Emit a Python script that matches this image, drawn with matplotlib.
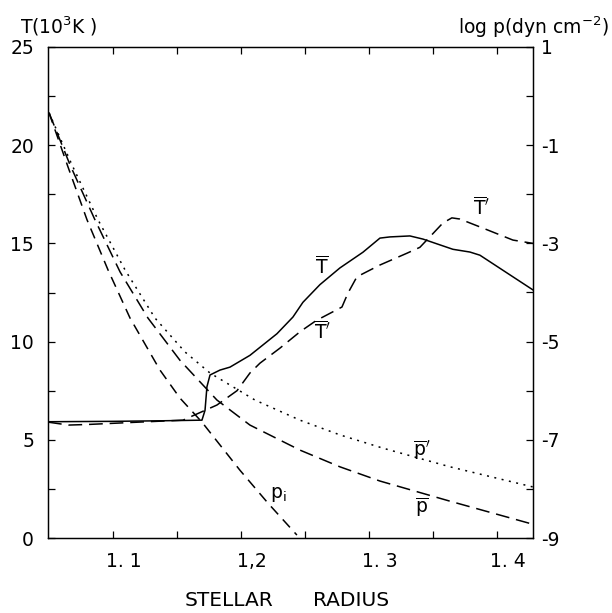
import matplotlib
matplotlib.use("Agg")
import matplotlib.pyplot as plt
import matplotlib.transforms as mtransforms

# stellar radius / temperature (10^3 K)
x_tbar = [1.049, 1.10, 1.14, 1.1693, 1.1717, 1.1732, 1.1756, 1.1834, 1.1912, 1.2068,
          1.2279, 1.2404, 1.2482, 1.2615, 1.2771, 1.2951, 1.3084, 1.3162, 1.3318,
          1.342, 1.3654, 1.3787, 1.3865, 1.4076, 1.428]
t_bar = [5.92, 5.94, 5.97, 6.0, 6.5, 7.7, 8.3, 8.55, 8.7, 9.3,
         10.4, 11.25, 12.0, 12.9, 13.75, 14.55, 15.27, 15.33, 15.38,
         15.22, 14.7, 14.56, 14.4, 13.5, 12.63]

x_tprime = [1.049, 1.065, 1.08, 1.12, 1.1545, 1.181, 1.1967, 1.2068, 1.2146, 1.2303,
            1.2459, 1.2592, 1.2638, 1.2787, 1.2834, 1.2904, 1.3084, 1.3295, 1.3396,
            1.3498, 1.3576, 1.3646, 1.3709, 1.3865, 1.4123, 1.428]
t_prime = [5.9, 5.75, 5.78, 5.9, 6.0, 6.77, 7.5, 8.4, 8.9, 9.67,
           10.5, 11.1, 11.25, 11.76, 12.47, 13.3, 13.9, 14.5, 14.8,
           15.5, 16.04, 16.3, 16.24, 15.84, 15.17, 15.0]

# log p (dyn cm^-2)
x_pi = [1.0498, 1.0646, 1.0795, 1.0959, 1.1131, 1.1365, 1.1521, 1.1693, 1.199, 1.2209, 1.2435]
logp_pi = [-0.34, -1.44, -2.52, -3.54, -4.52, -5.58, -6.15, -6.64, -7.62, -8.29, -8.94]

x_pbar = [1.0498, 1.0662, 1.0857, 1.1053, 1.1271, 1.1521, 1.181, 1.2068, 1.2459,
          1.2771, 1.3084, 1.3631, 1.4279]
logp_pbar = [-0.34, -1.40, -2.52, -3.58, -4.52, -5.38, -6.19, -6.70, -7.21,
             -7.55, -7.84, -8.25, -8.72]

x_pprime = [1.0498, 1.0677, 1.0881, 1.1092, 1.1326, 1.156, 1.1756, 1.2107, 1.2459,
            1.2771, 1.3107, 1.3631, 1.4279]
logp_pprime = [-0.34, -1.40, -2.52, -3.54, -4.52, -5.21, -5.64, -6.19, -6.60,
               -6.90, -7.17, -7.55, -7.96]

xtick_pos = [1.1, 1.2, 1.3, 1.4]
xtick_lab = ["1. 1", "1,2", "1. 3", "1. 4"]
ytick_left = [0, 5, 10, 15, 20, 25]
ytick_right = [-9, -7, -5, -3, -1, 1]

plt.rcParams['font.family'] = ['DejaVu Sans']
fs = 13.5

fig = plt.figure(figsize=(6.12, 6.13), dpi=100)
ax = fig.add_axes([48 / 612, 75 / 613, 485 / 612, 491 / 613])
ax2 = ax.twinx()

ax.set_xlim(1.049, 1.428)
ax.set_ylim(0, 25)
ax2.set_ylim(-9, 1)

lw = 1.1
ax.plot(x_tbar, t_bar, color='black', lw=lw)
ax.plot(x_tprime, t_prime, color='black', lw=lw, dashes=(9, 4.5))
ax2.plot(x_pi, logp_pi, color='black', lw=lw, dashes=(7, 4.5))
ax2.plot(x_pbar, logp_pbar, color='black', lw=lw, dashes=(9, 4.5))
ax2.plot(x_pprime, logp_pprime, color='black', lw=lw, dashes=(1.3, 3.6))

# curve labels
ax.text(1.263, 13.8, r"$\overline{\mathrm{T}}$", fontsize=fs, ha='center', va='center')
ax.text(1.2638, 10.5, r"$\overline{\mathrm{T}}'$", fontsize=fs, ha='center', va='center')
ax.text(1.388, 16.8, r"$\overline{\mathrm{T}}'$", fontsize=fs, ha='center', va='center')
ax.text(1.341, 4.48, r"$\overline{\mathrm{p}}'$", fontsize=fs, ha='center', va='center')
ax.text(1.341, 1.58, r"$\overline{\mathrm{p}}$", fontsize=fs, ha='center', va='center')
ax.text(1.2287, 2.19, r"$\mathrm{p_i}$", fontsize=fs, ha='center', va='center')

# ticks
ax.set_xticks(xtick_pos)
ax.set_xticklabels(xtick_lab, fontsize=fs)
ax.set_xticks([1.15, 1.25, 1.35], minor=True)
ax.set_yticks(ytick_left)
ax.set_yticklabels([str(v) for v in ytick_left], fontsize=fs)
ax.set_yticks([2.5, 7.5, 12.5, 17.5, 22.5], minor=True)
ax2.set_yticks(ytick_right)
ax2.set_yticklabels([str(v) for v in ytick_right], fontsize=fs)
ax2.set_yticks([-8, -6, -4, -2, 0], minor=True)

ax.tick_params(axis='x', which='both', direction='in', top=True, length=5, width=0.9, pad=10)
ax.tick_params(axis='y', which='both', direction='in', right=False, length=5, width=0.9, pad=10)
ax2.tick_params(axis='y', which='both', direction='in', length=5, width=0.9, pad=6)

offset = mtransforms.ScaledTranslation(0.11, 0, fig.dpi_scale_trans)
for lbl in ax.get_xticklabels():
    lbl.set_transform(lbl.get_transform() + offset)

for a in (ax, ax2):
    for sp in a.spines.values():
        sp.set_linewidth(0.9)

fig.text(20 / 612, 1 - 34 / 613, r"T(10$^3$K )", fontsize=fs, ha='left', va='baseline')
fig.text(609 / 612, 1 - 34 / 613, r"log p(dyn cm$^{-2}$)", fontsize=fs, ha='right', va='baseline')
fig.text(229 / 612, 1 - 601 / 613, "STELLAR", fontsize=14.5, ha='center', va='center')
fig.text(351 / 612, 1 - 601 / 613, "RADIUS", fontsize=14.5, ha='center', va='center')

fig.savefig("out.png", dpi=100)
